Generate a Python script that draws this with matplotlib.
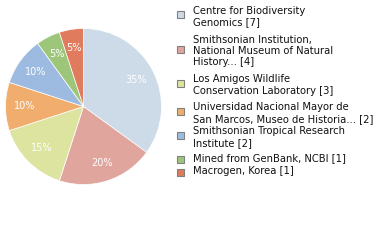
import matplotlib.pyplot as plt
from matplotlib.patches import Rectangle

# Данные
labels = [
    "Centre for Biodiversity\nGenomics [7]",
    "Smithsonian Institution,\nNational Museum of Natural\nHistory... [4]",
    "Los Amigos Wildlife\nConservation Laboratory [3]",
    "Universidad Nacional Mayor de\nSan Marcos, Museo de Historia... [2]",
    "Smithsonian Tropical Research\nInstitute [2]",
    "Mined from GenBank, NCBI [1]",
    "Macrogen, Korea [1]",
]
counts = [7, 4, 3, 2, 2, 1, 1]
colors = ["#cddbe8", "#e0a59d", "#dde4a0", "#f0ad6e", "#9dbbe0", "#9dc67a", "#e07b5d"]

W, H = 380, 240
fig = plt.figure(figsize=(W / 100, H / 100), dpi=100)

# Круговая диаграмма
cx, cy, r = 83.5, 106.5, 78
ax = fig.add_axes([(cx - r) / W, (H - cy - r) / H, 2 * r / W, 2 * r / H])
ax.pie(counts, colors=colors, startangle=90, counterclock=False,
       autopct=lambda p: f"{p:.0f}%", pctdistance=0.76,
       wedgeprops=dict(edgecolor="white", linewidth=0.5),
       textprops=dict(color="white", fontsize=7))
ax.set_xlim(-1, 1)
ax.set_ylim(-1, 1)
ax.set_aspect("auto")
ax.axis("off")

# Легенда вручную
first_line = [11, 40, 80, 108, 132, 159, 172]
lh = 11.5
for lab, col, y0 in zip(labels, colors, first_line):
    n = lab.count("\n") + 1
    fig.text(193 / W, 1 - (y0 - 5.5) / H, lab, fontsize=7.2, va="top", ha="left",
             linespacing=1.17, color="#111111")
    yc = y0 + (n - 1) * lh / 2 - 2
    if n == 1:
        yc = y0
    fig.patches.append(Rectangle(((177) / W, 1 - (yc + 3.5) / H), 7 / W, 7 / H,
                                 transform=fig.transFigure, facecolor=col,
                                 edgecolor="#808080", linewidth=0.8))

fig.savefig("out.png", dpi=100)
